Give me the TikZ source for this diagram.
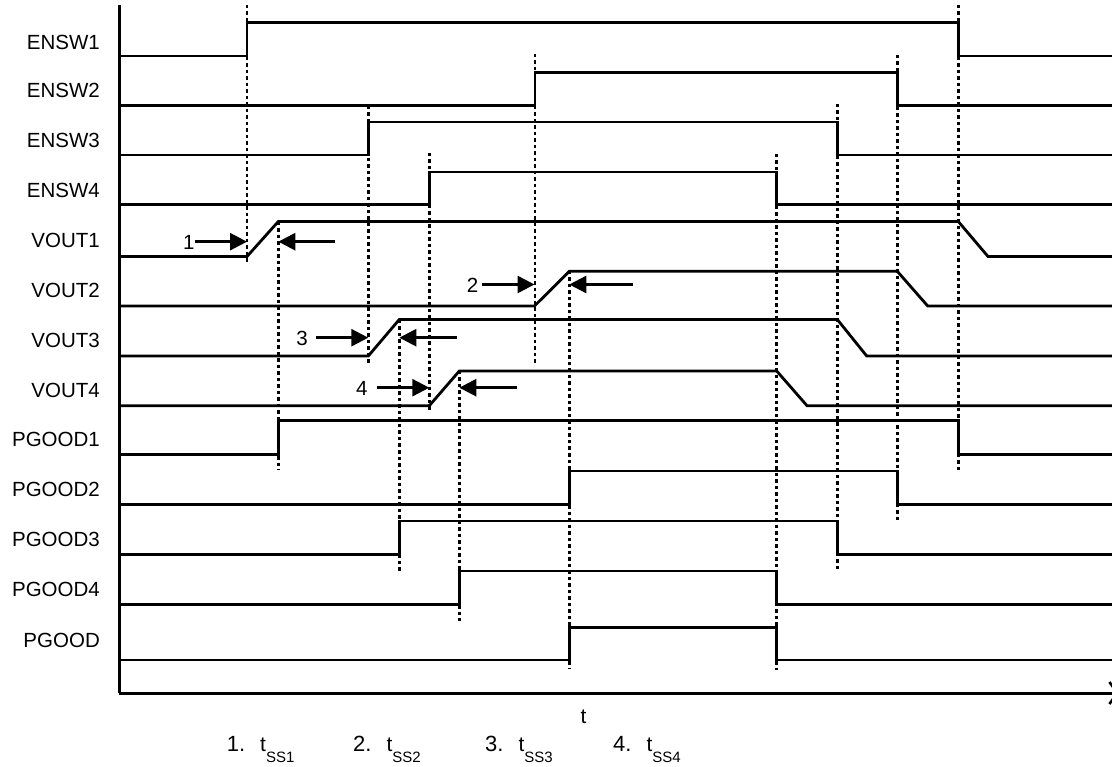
\documentclass[tikz,border=0pt]{standalone}
\usepackage{fontspec}
\setmainfont{Liberation Sans}
\usetikzlibrary{arrows.meta}
\tikzset{
  sig/.style={line width=2.8pt, line join=miter},
  guide/.style={line width=2.5pt, dash pattern=on 3.5pt off 3pt},
  axisline/.style={line width=3pt},
  lbl/.style={anchor=east, inner sep=0pt, font=\fontsize{20.5}{24}\selectfont},
  num/.style={inner sep=0pt, font=\fontsize{20.5}{24}\selectfont},
  marrow/.style={line width=2.6pt, -{Triangle[length=17pt,width=17pt]}},
  legend/.style={anchor=base west, inner sep=0pt, font=\fontsize{22}{26}\selectfont}
}
\newcommand{\tss}[1]{\fontsize{21}{24}\selectfont t\raisebox{-11pt}{\fontsize{15}{17}\selectfont SS#1}}
\begin{document}
\begin{tikzpicture}[x=1pt,y=-1pt]
\useasboundingbox (0,0) rectangle (1112,767);
\fill[white] (0,0) rectangle (1112,767);

% labels
\node[lbl] (l1) at (100,42) {ENSW1};
\node[lbl] (l2) at (100,90.5) {ENSW2};
\node[lbl] (l3) at (100,140) {ENSW3};
\node[lbl] (l4) at (100,190.5) {ENSW4};
\node[lbl] (l5) at (100,240) {VOUT1};
\node[lbl] (l6) at (100,290) {VOUT2};
\node[lbl] (l7) at (100,340) {VOUT3};
\node[lbl] (l8) at (100,390) {VOUT4};
\node[lbl] (l9) at (100,439.5) {PGOOD1};
\node[lbl] (l10) at (100,489.5) {PGOOD2};
\node[lbl] (l11) at (100,539.5) {PGOOD3};
\node[lbl] (l12) at (100,589.5) {PGOOD4};
\node[lbl] (l13) at (100,640) {PGOOD};

% guide lines
\draw[guide] (247,5) -- (247,264);
\draw[guide] (368.3,106) -- (368.3,364);
\draw[guide] (429.3,153) -- (429.3,413);
\draw[guide] (535,54) -- (535,363);
\draw[guide] (278.3,222) -- (278.3,470);
\draw[guide] (399.3,320) -- (399.3,572);
\draw[guide] (459.3,371) -- (459.3,621);
\draw[guide] (569.3,271) -- (569.3,669);
\draw[guide] (776.7,154) -- (776.7,670);
\draw[guide] (837.3,104) -- (837.3,572);
\draw[guide] (897.3,55) -- (897.3,522);
\draw[guide] (958.3,5) -- (958.3,472);

% signals
\draw[sig] (119,56) -- (247,56) -- (247,22.5) -- (958.3,22.5) -- (958.3,56) -- (1112,56);
\draw[sig] (119,105.5) -- (535,105.5) -- (535,72.3) -- (897.3,72.3) -- (897.3,105.5) -- (1112,105.5);
\draw[sig] (119,155) -- (368.3,155) -- (368.3,122) -- (837.3,122) -- (837.3,155) -- (1112,155);
\draw[sig] (119,204.7) -- (429.3,204.7) -- (429.3,172) -- (776.7,172) -- (776.7,204.7) -- (1112,204.7);
\draw[sig] (119,256.5) -- (247,256.5) -- (278.3,221.5) -- (958.3,221.5) -- (988,256.5) -- (1112,256.5);
\draw[sig] (119,306) -- (534.5,306) -- (569.3,271.3) -- (897.3,271.3) -- (927.7,306) -- (1112,306);
\draw[sig] (119,356) -- (368.3,356) -- (399.3,319.5) -- (837.3,319.5) -- (866.7,356) -- (1112,356);
\draw[sig] (119,405.7) -- (429.3,405.7) -- (459.3,371) -- (776.7,371) -- (807,405.7) -- (1112,405.7);
\draw[sig] (119,454.5) -- (278.3,454.5) -- (278.3,420.5) -- (958.3,420.5) -- (958.3,454.5) -- (1112,454.5);
\draw[sig] (119,504.5) -- (569.3,504.5) -- (569.3,471) -- (897.3,471) -- (897.3,504.5) -- (1112,504.5);
\draw[sig] (119,554.5) -- (399.3,554.5) -- (399.3,521) -- (837.3,521) -- (837.3,554.5) -- (1112,554.5);
\draw[sig] (119,604.3) -- (459.3,604.3) -- (459.3,571) -- (776.7,571) -- (776.7,604.3) -- (1112,604.3);
\draw[sig] (119,660) -- (569.3,660) -- (569.3,627.5) -- (776.7,627.5) -- (776.7,660) -- (1112,660);

% axes
\coordinate (otop) at (119,5);
\coordinate (orig) at (119,693);
\coordinate (tend) at (1119,693);
\draw[axisline] (otop) -- (orig);
\draw[axisline, -{Straight Barb[length=8pt,width=22pt,line width=2.6pt]}] (orig) -- (tend);
\node[inner sep=0pt, font=\fontsize{21}{24}\selectfont] (tlab) at (583.5,717) {t};

% soft-start markers
\node[num] (n1) at (188.7,242) {1};
\node[num] (n2) at (472.5,285.7) {2};
\node[num] (n3) at (302,338) {3};
\node[num] (n4) at (361.7,388) {4};
\coordinate (a1) at (247,241.7);
\coordinate (a2) at (534.5,284.5);
\coordinate (a3) at (368.3,337.7);
\coordinate (a4) at (429.3,387.7);
\coordinate (b1s) at (335,241.7);
\coordinate (b1) at (278.3,241.7);
\coordinate (b2s) at (633,284.5);
\coordinate (b2) at (569.3,284.5);
\coordinate (b3s) at (456.7,337.7);
\coordinate (b3) at (399.3,337.7);
\coordinate (b4s) at (516.7,387.7);
\coordinate (b4) at (459.3,387.7);
\draw[marrow] (n1.east |- a1) -- (a1);
\draw[marrow] ([xshift=4pt]n2.east |- a2) -- (a2);
\draw[marrow] ([xshift=8pt]n3.east |- a3) -- (a3);
\draw[marrow] ([xshift=9pt]n4.east |- a4) -- (a4);
\draw[marrow] (b1s) -- (b1);
\draw[marrow] (b2s) -- (b2);
\draw[marrow] (b3s) -- (b3);
\draw[marrow] (b4s) -- (b4);

% legend
\node[legend] (g1) at (226.7,751) {1.\hspace{15pt}\tss{1}};
\node[legend] (g2) at (353,751) {2.\hspace{15pt}\tss{2}};
\node[legend] (g3) at (485,751) {3.\hspace{15pt}\tss{3}};
\node[legend] (g4) at (613,751) {4.\hspace{15pt}\tss{4}};
\end{tikzpicture}
\end{document}
